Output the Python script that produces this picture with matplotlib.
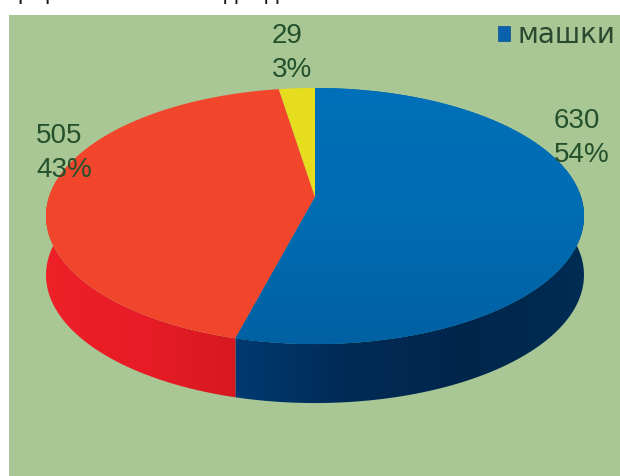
# -*- coding = utf-8 -*-
import numpy as np
import matplotlib
matplotlib.use('Agg')
import matplotlib.pyplot as plt
from matplotlib.colors import LinearSegmentedColormap
from matplotlib.patches import Polygon, Rectangle

plt.rcParams['font.family'] = ['Liberation Sans', 'DejaVu Sans']

# slices, clockwise from the top
values = [630, 505, 29]
percents = [54, 43, 3]
top_colors = ['#0068ae', '#f2462c', '#e6dd1e']
legend_name = 'машки'

# the end of the title line, cut off by the top edge of the picture
cut_glyphs = ['р', 'р', 'д', 'д']
cut_x = [24, 51, 231, 272]

# perspective of the disc, in pixels
cx, cy = 315, 197
rx, ry, k = 266, 125.2, 0.1485
depth = 59


def project(theta):
    u, v = np.sin(theta), np.cos(theta)
    w = 1 + k * v
    return cx + rx * u / w, cy - ry * v / w


fig = plt.figure(figsize=(6.2, 4.76), dpi=100, facecolor='white')
ax = fig.add_axes([0, 0, 1, 1])
ax.set_axis_off()
ax.add_patch(Rectangle((9, 15), 612, 462, color='#a8c795', lw=0, zorder=0))

edges = 2 * np.pi * np.concatenate([[0], np.cumsum(values)]) / sum(values)

# side wall, front part only, colours run left to right
wall_maps = [
    LinearSegmentedColormap.from_list('w0', ['#003a70', '#002a55', '#00264c', '#002c54']),
    LinearSegmentedColormap.from_list('w1', ['#ee2028', '#e81c26', '#d6181f']),
    None,
]
for i in range(len(values)):
    steps = np.linspace(edges[i], edges[i + 1], 300)
    steps = steps[np.cos(steps) < 0.3]
    if len(steps) < 2:
        continue
    xs, ys = project(steps)
    pts = np.column_stack([np.r_[xs, xs[::-1]], np.r_[ys, ys[::-1] + depth]])
    wall = Polygon(pts, closed=True, facecolor='none', edgecolor='none', zorder=1)
    ax.add_patch(wall)
    grad = np.linspace(0, 1, 256).reshape(1, -1)
    ext = (xs.min(), xs.max(), ys.max() + depth + 2, ys.min() - 2)
    img = ax.imshow(grad, cmap=wall_maps[i], extent=ext, aspect='auto', zorder=1.5)
    img.set_clip_path(wall)

# top face
blue_grad = LinearSegmentedColormap.from_list('b', ['#0070ba', '#006cb2', '#0060a2'])
for i in range(len(values)):
    theta = np.linspace(edges[i], edges[i + 1], 200)
    xs, ys = project(theta)
    pts = np.column_stack([np.r_[cx, xs], np.r_[cy, ys]])
    face = Polygon(pts, closed=True, facecolor=top_colors[i], edgecolor='none', zorder=2)
    ax.add_patch(face)
    if i == 0:
        img = ax.imshow(np.linspace(0, 1, 256).reshape(-1, 1), cmap=blue_grad,
                        extent=(40, 590, 350, 85), aspect='auto', zorder=3)
        img.set_clip_path(face)

ax.set_xlim(0, 620)
ax.set_ylim(476, 0)

# data labels
label_color = '#24502c'
label_pos = [(554, 138), (36, 153), (272, 53)]
for v, p, (lx, ly) in zip(values, percents, label_pos):
    ax.text(lx, ly, f'{v}\n{p}%', ha='left', va='center', fontsize=20,
            linespacing=1.4, color=label_color, zorder=5)

for g, x in zip(cut_glyphs, cut_x):
    ax.text(x, -1, g, ha='center', va='baseline', fontsize=17, color='#1a1a1a',
            clip_on=False, zorder=5)

# legend
handle = Rectangle((0, 0), 1, 1, facecolor='#0a62ae', edgecolor='#0a4f8c', lw=0.5)
ax.legend([handle], [legend_name], loc='upper right', bbox_to_anchor=(0.992, 0.955),
          frameon=False, prop={'family': 'DejaVu Sans', 'size': 20}, handlelength=0.45,
          handleheight=0.45, handletextpad=0.25, borderpad=0, borderaxespad=0,
          labelcolor='#2a4a30')

fig.savefig('out.png', dpi=100, facecolor='white')
